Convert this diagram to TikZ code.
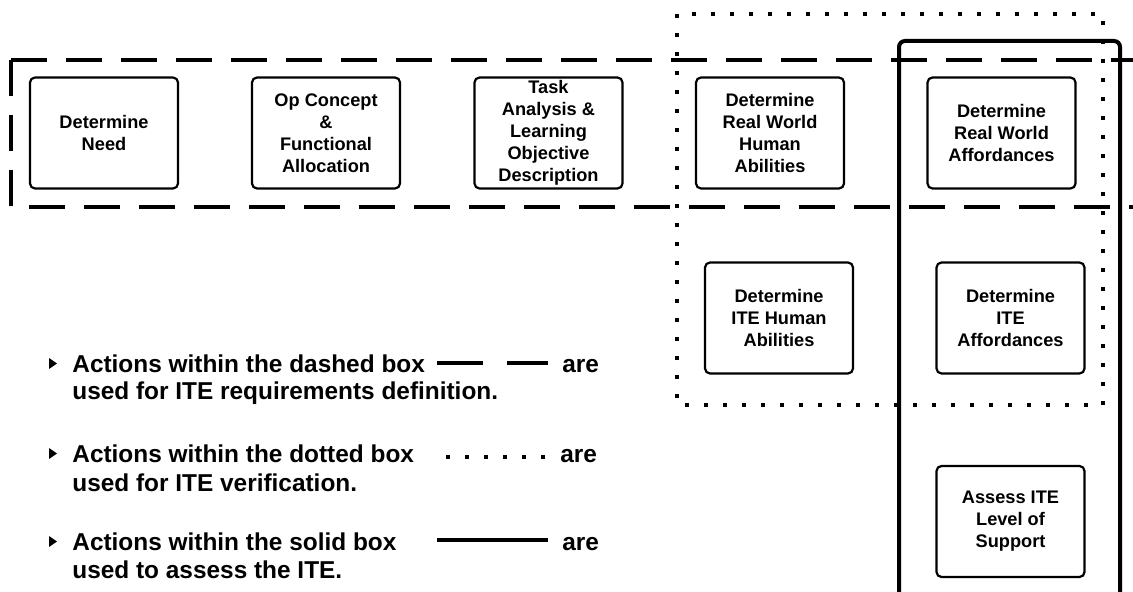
\documentclass[tikz,border=0pt]{standalone}
\usepackage{fontspec}
\setmainfont{Liberation Sans}
\usetikzlibrary{positioning,calc}
\tikzset{actbox/.style={draw,rounded corners=2.5pt,line width=1.1pt,minimum width=74pt,minimum height=55.5pt,inner sep=1pt,align=center,font=\fontsize{9.1}{11}\selectfont\bfseries}  }
\tikzset{reqframe/.style={line width=2pt,dash pattern=on 18pt off 9.5pt}  }
\tikzset{verframe/.style={line width=2pt,dash pattern=on 2pt off 7.5pt}  }
\tikzset{assframe/.style={line width=2pt,rounded corners=3pt}  }
\tikzset{legtext/.style={anchor=base west,inner sep=0pt,font=\fontsize{12.2}{14.6}\selectfont\bfseries}  }
\def\legmark#1{\fill ($(#1.base west)+(-23,-14)$) -- ++(8,5.5) -- ++(-8,5.5) -- cycle;}

\begin{document}
\begin{tikzpicture}[x=0.5pt,y=-0.5pt]
	\useasboundingbox (0,0) rectangle (1133,592);

	% the three frames
	\draw[reqframe] (11,60) -- (1150,60);
	\draw[reqframe] (11,60) -- (11,207) -- (1150,207);
	\draw[verframe] (677,14) rectangle (1103,405);
	\draw[assframe] (899,620) -- (899,41) -- (1120,41) -- (1120,620);

	% process steps
	\node[actbox] (need) at (104,133) {Determine\\Need};
	\node[actbox] (opcon) at (326,133) {Op Concept\\\&\\Functional\\Allocation};
	\node[actbox] (task) at (548.5,133) {Task\\Analysis \&\\Learning\\Objective\\Description};
	\node[actbox] (rwhum) at (770,133) {Determine\\Real World\\Human\\Abilities};
	\node[actbox] (rwaff) at (1001.5,133) {Determine\\Real World\\Affordances};
	\node[actbox] (itehum) at (779,318) {Determine\\ITE Human\\Abilities};
	\node[actbox] (iteaff) at (1010.5,318) {Determine\\ITE\\Affordances};
	\node[actbox] (assess) at (1010.5,521.5) {Assess ITE\\Level of\\Support};

	% legend
	\node[legtext] (leg1) at (72,372) {Actions within the dashed box};
	\node[legtext] (are1) at (562,372) {are};
	\node[legtext] (use1) at (72,400) {used for ITE requirements definition.};
	\node[legtext] (leg2) at (72,462) {Actions within the dotted box};
	\node[legtext] (are2) at (560,462) {are};
	\node[legtext] (use2) at (72,491) {used for ITE verification.};
	\node[legtext] (leg3) at (72,550) {Actions within the solid box};
	\node[legtext] (are3) at (562,550) {are};
	\node[legtext] (use3) at (72,578) {used to assess the ITE.};
	\legmark{leg1} \legmark{leg2} \legmark{leg3}

	\coordinate (s1) at (437,363); \coordinate (e1) at (548,363);
	\coordinate (s2) at (446,457); \coordinate (e2) at (545,457);
	\coordinate (s3) at (437,540); \coordinate (e3) at (548,540);
	\draw[line width=2pt,dash pattern=on 23pt off 12pt] (s1) -- (e1);
	\draw[verframe] (s2) -- (e2);
	\draw[line width=2pt] (s3) -- (e3);
\end{tikzpicture}
\end{document}
